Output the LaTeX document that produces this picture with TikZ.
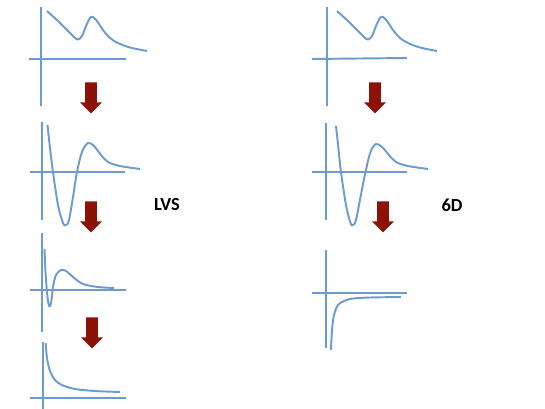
\documentclass[tikz,border=0pt]{standalone}
\usepackage{fontspec}
\setsansfont{Carlito}
\usetikzlibrary{shapes.arrows}
\definecolor{curveblue}{HTML}{6C9BD2}
\definecolor{steparrow}{HTML}{8C1106}

\begin{document}
\begin{tikzpicture}[
    x=0.02cm, y=-0.02cm,
    axis/.style={curveblue, line width=1.1pt},
    trace/.style={curveblue, line width=1.1pt, smooth, tension=0.55},
    flow/.style={single arrow, draw=none, fill=steparrow, rotate=-90,
                 anchor=tail, minimum height=0.62cm, inner sep=0.11cm,
                 single arrow head extend=0.1cm},
    tag/.style={font=\sffamily\bfseries\fontsize{10.5}{12}\selectfont}
]
\useasboundingbox (0,0) rectangle (545,409);

% LVS column
\draw[axis] (41,7) -- (41,106);
\draw[axis] (29,59) -- (126,59);
\draw[trace] plot coordinates {(47,11) (58,21) (68,31) (74,37) (78,39.5) (82,36) (86,26) (90,18) (93,17) (97,21) (103,30) (110,38) (118,43) (130,47.5) (147,51)};
\node[flow] (lvsA) at (91,82) {};

\draw[axis] (42,122) -- (42,220);
\draw[axis] (30,172) -- (125,172);
\draw[trace] plot coordinates {(47.5,125) (50,148) (53,172) (58,205) (63,223) (66,225) (69,220) (73,197) (77,172) (82,152) (88,143) (94,146) (101,155) (108,162) (120,166) (140,169)};
\node[flow] (lvsB) at (91,201) {};

\draw[axis] (42,233) -- (42,332);
\draw[axis] (30,290) -- (126,290);
\draw[trace] plot coordinates {(44.5,249) (45.5,272) (47,292) (48.5,304) (50,306) (51.5,300) (53,287) (56,275) (61,270) (66,271) (73,277) (83,284) (98,287) (114,288)};
\node[flow] (lvsC) at (92,317) {};

\draw[axis] (43,342) -- (43,409);
\draw[axis] (30,398) -- (126,398);
\draw[trace] plot coordinates {(45.7,343) (47,358) (50,371) (55,380) (62,385) (75,389) (95,391) (120,392)};

\node[tag] (lvs) at (167,205) {LVS};

% 6D column
\draw[axis] (327,7) -- (327,106);
\draw[axis] (312,59) -- (407,58);
\draw[trace] plot coordinates {(337,11) (348,21) (358,31) (364,37) (368,39.5) (372,36) (376,26) (380,18) (383,17) (387,21) (393,30) (400,38) (408,43) (420,47.5) (437,51)};
\node[flow] (sixA) at (375,82) {};

\draw[axis] (326,123) -- (326,220);
\draw[axis] (312,172) -- (407,172);
\draw[trace] plot coordinates {(336,126) (338.5,149) (341,172) (346,205) (350.5,223) (353,225) (356,220) (360.5,197) (365.5,172) (370.5,152) (376,144) (382,147) (389,155) (396,162) (408,166) (428,169)};
\node[flow] (sixB) at (383,201) {};

\draw[axis] (326,250) -- (326,348);
\draw[axis] (312,293) -- (407,293);
\draw[trace] plot coordinates {(331,350) (332,330) (334,315) (338,305) (344,301) (353,298.5) (370,297.5) (401,297)};

\node[tag] (sixd) at (452,205) {6D};

\end{tikzpicture}
\end{document}
